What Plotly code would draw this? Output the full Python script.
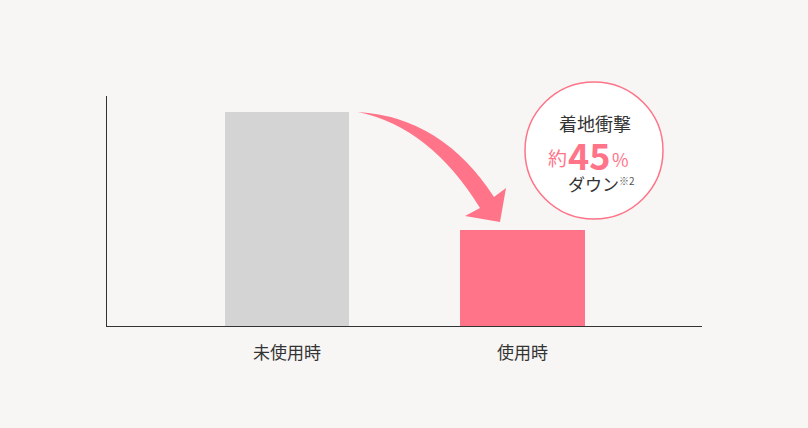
import plotly.graph_objects as go

# data
categories = ["未使用時", "使用時"]
impact_values = [100, 45]
bar_colors = ["#d4d4d4", "#ff7489"]

FONT = "Noto Sans CJK JP"
PINK = "#ff7489"
BG = "#f7f6f4"

# plot area in pixels (808x428 page)
L, R, T, B = 107, 702, 96, 326


def px(x, y):
    # pixel -> paper coords
    return (x - L) / (R - L), (B - y) / (B - T)


def path(points):
    out = []
    for cmd, pts in points:
        coords = " ".join("%.4f,%.4f" % px(*p) for p in pts)
        out.append(cmd + " " + coords if coords else cmd)
    return " ".join(out)


fig = go.Figure()
fig.add_trace(go.Bar(
    x=categories, y=impact_values,
    marker=dict(color=bar_colors, line=dict(width=0)),
    width=0.527, hoverinfo="skip",
))

# curved arrow from the gray bar down to the pink one
arrow = path([
    ("M", [(358, 112)]),
    ("Q", [(442, 117), (494, 197)]),
    ("L", [(506, 188)]),
    ("L", [(500, 222)]),
    ("L", [(465, 216)]),
    ("L", [(480, 208)]),
    ("Q", [(430, 127), (358, 112)]),
    ("Z", []),
])
fig.add_shape(type="path", path=arrow, xref="paper", yref="paper",
              fillcolor=PINK, line=dict(width=0), layer="above")

# badge circle
cx0, cy0 = px(525, 219)
cx1, cy1 = px(663, 82)
fig.add_shape(type="circle", xref="paper", yref="paper",
              x0=cx0, y0=cy0, x1=cx1, y1=cy1,
              fillcolor="white", line=dict(color=PINK, width=1.5), layer="above")


def note(x, y, text, size, color, xanchor="center"):
    ax, ay = px(x, y)
    fig.add_annotation(x=ax, y=ay, xref="paper", yref="paper", text=text,
                       showarrow=False, xanchor=xanchor, yanchor="middle",
                       borderpad=0,
                       font=dict(family=FONT, size=size, color=color))


note(595, 123, "着地衝撃", 18, "#333333")
note(568, 157, "約", 19, PINK, xanchor="right")
note(567, 154, "<b>45</b>", 36, PINK, xanchor="left")
note(611, 159, "%", 18, PINK, xanchor="left")
note(593, 183, "ダウン", 17, "#333333")
note(618, 180, "※2", 10, "#555555", xanchor="left")

fig.update_layout(
    width=808, height=428,
    margin=dict(l=L, r=808 - R, t=T, b=428 - B),
    paper_bgcolor=BG, plot_bgcolor=BG,
    showlegend=False, bargap=0,
    font=dict(family=FONT, color="#333333"),
)
fig.update_xaxes(
    range=[-0.764, 1.762], showline=True, linecolor="#333333", linewidth=1,
    showgrid=False, zeroline=False, ticks="", ticklabelstandoff=12,
    tickfont=dict(family=FONT, size=17, color="#333333"),
)
fig.update_yaxes(
    range=[0, 107.5], showline=True, linecolor="#333333", linewidth=1,
    showgrid=False, zeroline=False, showticklabels=False, ticks="",
)

fig.write_html("out.html", config={"displayModeBar": False},
               post_script="document.body.style.margin='0';")
